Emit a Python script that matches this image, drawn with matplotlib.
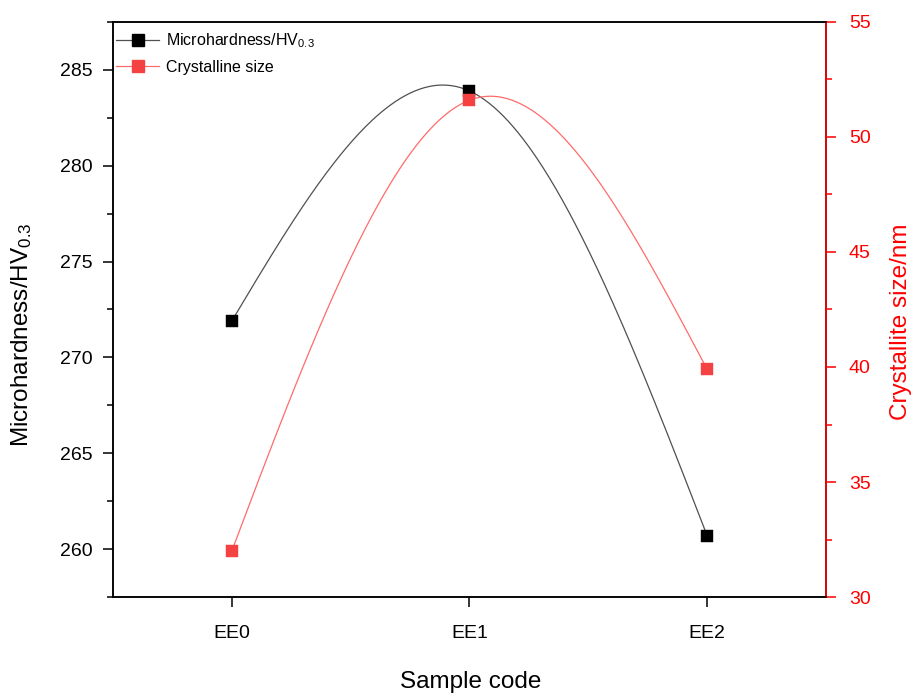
import numpy as np
import matplotlib
matplotlib.use('Agg')
import matplotlib.pyplot as plt
from matplotlib.lines import Line2D
from matplotlib.ticker import MultipleLocator

plt.rcParams['font.family'] = ['Liberation Sans', 'DejaVu Sans']
plt.rcParams['mathtext.fontset'] = 'custom'
plt.rcParams['mathtext.rm'] = 'Liberation Sans'
plt.rcParams['mathtext.it'] = 'Liberation Sans:italic'

# data
samples = ['EE0', 'EE1', 'EE2']
hardness = [271.9, 283.9, 260.7]
crystal = [32.0, 51.6, 39.9]


def natural_spline(x, y, n=300):
    # plain natural cubic spline, smooth line through the points
    x = np.asarray(x, float)
    y = np.asarray(y, float)
    k = len(x)
    h = np.diff(x)
    A = np.zeros((k, k))
    r = np.zeros(k)
    A[0, 0] = 1
    A[-1, -1] = 1
    for i in range(1, k - 1):
        A[i, i - 1] = h[i - 1]
        A[i, i] = 2 * (h[i - 1] + h[i])
        A[i, i + 1] = h[i]
        r[i] = 6 * ((y[i + 1] - y[i]) / h[i] - (y[i] - y[i - 1]) / h[i - 1])
    M = np.linalg.solve(A, r)
    xs = np.linspace(x[0], x[-1], n)
    ys = np.zeros_like(xs)
    for j, xv in enumerate(xs):
        i = min(np.searchsorted(x, xv, side='right') - 1, k - 2)
        a = x[i + 1] - xv
        b = xv - x[i]
        ys[j] = (M[i] * a**3 / 6 + M[i + 1] * b**3 / 6) / h[i] \
            + (y[i] / h[i] - M[i] * h[i] / 6) * a \
            + (y[i + 1] / h[i] - M[i + 1] * h[i] / 6) * b
    return xs, ys


xpos = np.arange(len(samples))
red = '#ff0000'
mred = '#f44242'
lred = '#ff6b6b'
gray = '#505050'

fig = plt.figure(figsize=(9.14, 6.93), dpi=100)
ax = fig.add_axes([0.1236, 0.1385, 0.7801, 0.8298])
ax2 = ax.twinx()

xs, ys = natural_spline(xpos, hardness)
ax.plot(xs, ys, color=gray, lw=0.9)
ax.plot(xpos, hardness, 's', color='black', ms=8.4, mec='black', mew=0.3)

xs2, ys2 = natural_spline(xpos, crystal)
ax2.plot(xs2, ys2, color=lred, lw=0.9)
ax2.plot(xpos, crystal, 's', color=mred, ms=8.4, mec=mred, mew=0.3)

ax.set_xlim(-0.5, 2.5)
ax.set_ylim(257.5, 287.5)
ax2.set_ylim(30, 55)

ax.set_xticks(xpos)
ax.set_xticklabels(samples)
ax.yaxis.set_major_locator(MultipleLocator(5))
ax.yaxis.set_minor_locator(MultipleLocator(2.5))
ax2.yaxis.set_major_locator(MultipleLocator(5))
ax2.yaxis.set_minor_locator(MultipleLocator(2.5))

ax.tick_params(axis='x', which='major', direction='out', length=7.5, width=1.1,
               labelsize=14, pad=13)
ax.tick_params(axis='y', which='major', direction='out', length=7.5, width=1.1,
               labelsize=14, pad=7)
ax.tick_params(axis='y', which='minor', direction='out', length=4, width=1.1)
ax2.tick_params(axis='y', which='major', direction='out', length=7.5, width=1.1,
                labelsize=14, pad=9, colors=red)
ax2.tick_params(axis='y', which='minor', direction='out', length=4, width=1.1,
                colors=red)

for s in ax.spines.values():
    s.set_linewidth(1.1)
for s in ax2.spines.values():
    s.set_linewidth(1.1)
ax2.spines['right'].set_color(red)

ax.set_xlabel('Sample code', fontsize=17.5)
ax.xaxis.set_label_coords(0.502, -0.128)
ax.set_ylabel(r'Microhardness/HV$_{\mathrm{0.3}}$', fontsize=17.5)
ax.yaxis.set_label_coords(-0.111, 0.456)
ax2.set_ylabel('Crystallite size/nm', fontsize=17.5, color=red)
ax2.yaxis.set_label_coords(1.09, 0.478)

h1 = Line2D([], [], color=gray, lw=0.9, marker='s', ms=8.4, mfc='black', mec='black')
h2 = Line2D([], [], color=lred, lw=0.9, marker='s', ms=8.4, mfc=mred, mec=mred)
ax2.legend([h1, h2], [r'Microhardness/HV$_{\mathrm{0.3}}$', 'Crystalline size'],
           loc='upper left', bbox_to_anchor=(-0.009, 1.0), frameon=False,
           fontsize=11.5, handlelength=2.7, handletextpad=0.45,
           labelspacing=0.6, borderaxespad=0.2, numpoints=1)

fig.savefig('out.png', dpi=100)
